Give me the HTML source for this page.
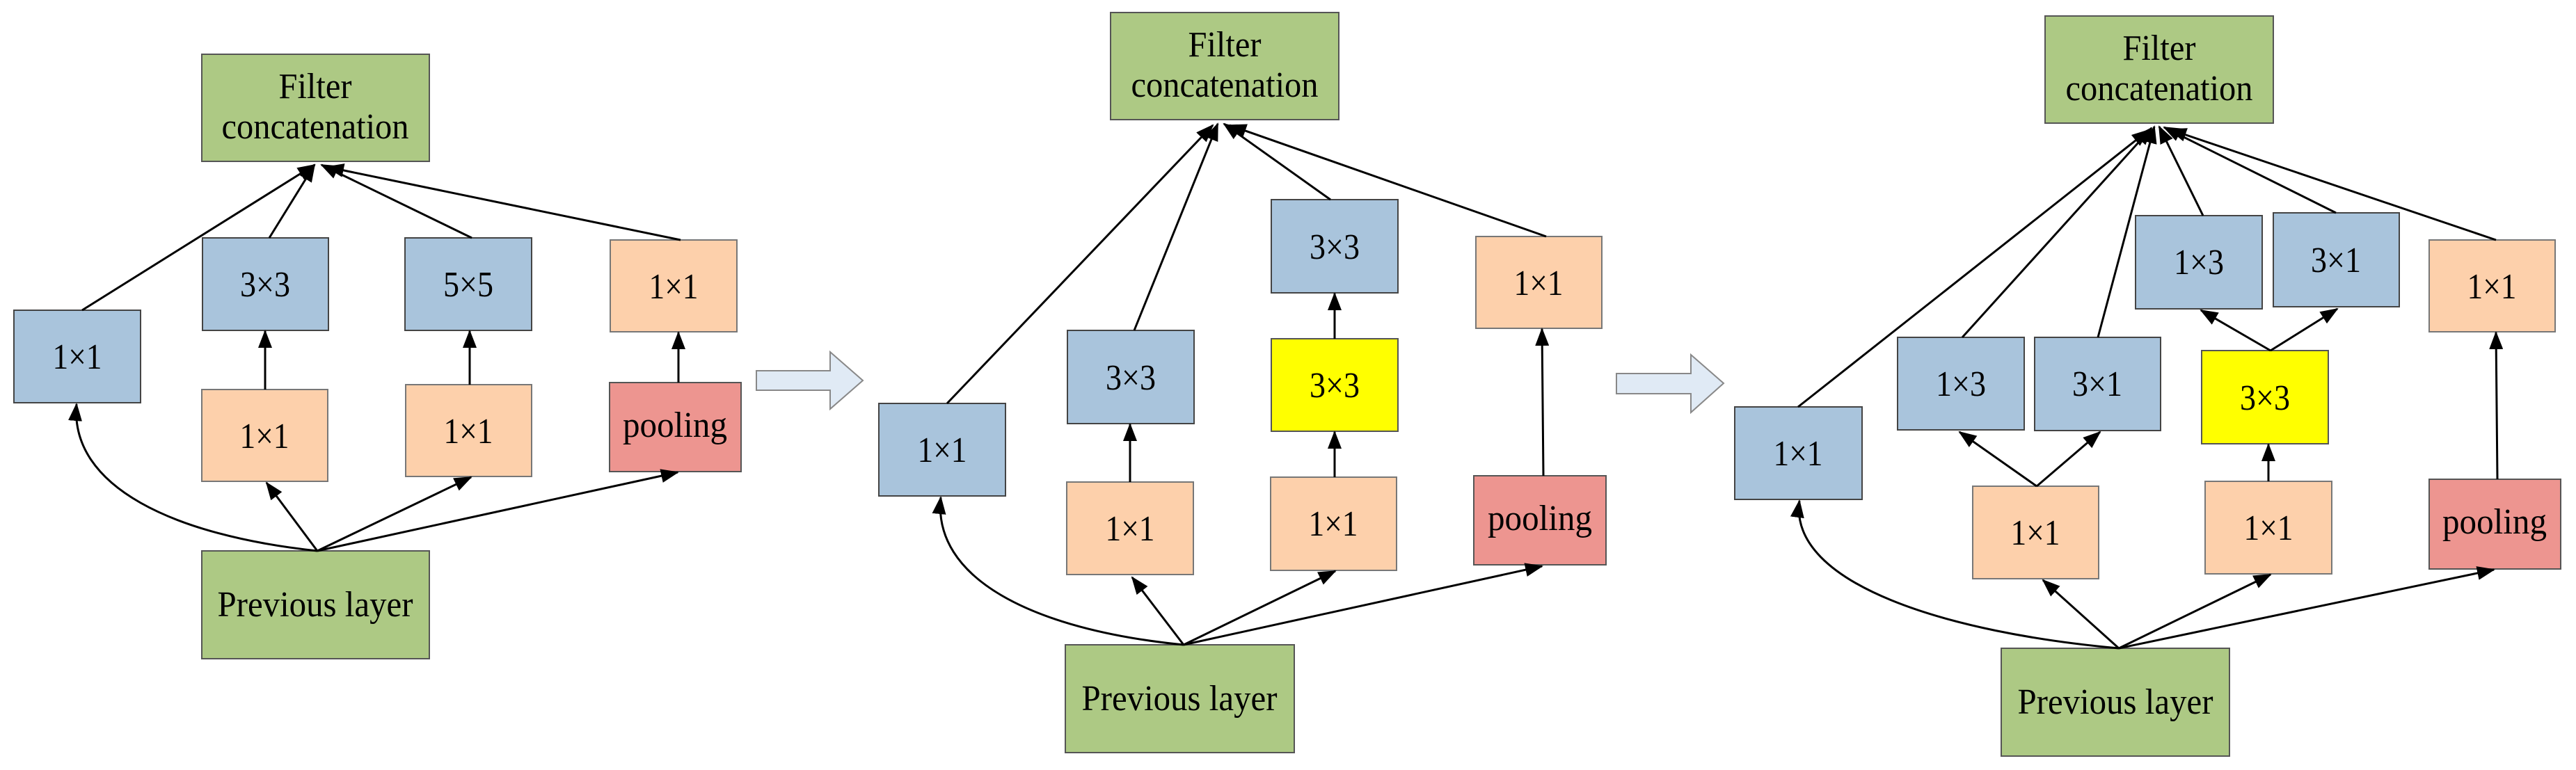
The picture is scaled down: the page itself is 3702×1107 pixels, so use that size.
<!DOCTYPE html>
<html><head><meta charset="utf-8"><style>
html,body{margin:0;padding:0;background:#fff;}
svg{display:block;}
svg text{font-family:"Liberation Serif","Times New Roman","DejaVu Serif",serif;font-size:52px;fill:#000;text-anchor:middle;}
.g{fill:#adc984;stroke:#555;stroke-width:2;}
.b{fill:#a9c4dc;stroke:#444;stroke-width:2;}
.o{fill:#fdd0ab;stroke:#777;stroke-width:2;}
.p{fill:#ed9590;stroke:#555;stroke-width:2;}
.y{fill:#ffff00;stroke:#555;stroke-width:2;}
.l{stroke:#000;stroke-width:3;fill:none;marker-end:url(#ah);}
</style></head><body>
<svg width="3702" height="1107" viewBox="0 0 3702 1107" xmlns="http://www.w3.org/2000/svg">
<defs>
<marker id="ah" markerUnits="userSpaceOnUse" markerWidth="26" markerHeight="20" refX="24" refY="10" orient="auto">
<path d="M0,0 L26,10 L0,20 z" fill="#000"/>
</marker>
</defs>

<!-- PANEL 1 -->
<rect class="g" x="290" y="78" width="327" height="154"/>
<text x="453" y="141" textLength="105" lengthAdjust="spacingAndGlyphs">Filter</text><text x="453" y="199" textLength="269" lengthAdjust="spacingAndGlyphs">concatenation</text>
<rect class="b" x="20" y="446" width="182" height="133"/><text x="111" y="530" textLength="71" lengthAdjust="spacingAndGlyphs">1×1</text>
<rect class="b" x="291" y="342" width="181" height="133"/><text x="381" y="426" textLength="72" lengthAdjust="spacingAndGlyphs">3×3</text>
<rect class="b" x="582" y="342" width="182" height="133"/><text x="673" y="426" textLength="72" lengthAdjust="spacingAndGlyphs">5×5</text>
<rect class="o" x="877" y="345" width="182" height="132"/><text x="968" y="429" textLength="71" lengthAdjust="spacingAndGlyphs">1×1</text>
<rect class="o" x="290" y="560" width="181" height="132"/><text x="380" y="644" textLength="71" lengthAdjust="spacingAndGlyphs">1×1</text>
<rect class="o" x="583" y="553" width="181" height="132"/><text x="673" y="637" textLength="71" lengthAdjust="spacingAndGlyphs">1×1</text>
<rect class="p" x="876" y="550" width="189" height="128"/><text x="970" y="628" textLength="150" lengthAdjust="spacingAndGlyphs">pooling</text>
<rect class="g" x="290" y="792" width="327" height="155"/><text x="453" y="886" textLength="281" lengthAdjust="spacingAndGlyphs">Previous layer</text>
<path d="M1087,533 L1193,533 L1193,506 L1240,547 L1193,588 L1193,561 L1087,561 z" fill="#e0eaf5" stroke="#888" stroke-width="2"/>

<path class="l" d="M118,446 L452,237"/>
<path class="l" d="M387,342 L452,237"/>
<path class="l" d="M678,342 L462,237"/>
<path class="l" d="M978,345 L470,240"/>
<path class="l" d="M381,560 L381,476"/>
<path class="l" d="M675,553 L675,476"/>
<path class="l" d="M975,550 L975,478"/>
<path class="l" d="M456,792 C250,770 100,700 110,581"/>
<path class="l" d="M456,792 L383,694"/>
<path class="l" d="M456,792 L677,686"/>
<path class="l" d="M456,792 L974,679"/>

<!-- PANEL 2 -->
<rect class="g" x="1596" y="18" width="328" height="154"/>
<text x="1760" y="81" textLength="105" lengthAdjust="spacingAndGlyphs">Filter</text><text x="1760" y="139" textLength="269" lengthAdjust="spacingAndGlyphs">concatenation</text>
<rect class="b" x="1263" y="580" width="182" height="133"/><text x="1354" y="664" textLength="71" lengthAdjust="spacingAndGlyphs">1×1</text>
<rect class="b" x="1534" y="475" width="182" height="134"/><text x="1625" y="560" textLength="72" lengthAdjust="spacingAndGlyphs">3×3</text>
<rect class="b" x="1827" y="287" width="182" height="134"/><text x="1918" y="372" textLength="72" lengthAdjust="spacingAndGlyphs">3×3</text>
<rect class="y" x="1827" y="487" width="182" height="133"/><text x="1918" y="571" textLength="72" lengthAdjust="spacingAndGlyphs">3×3</text>
<rect class="o" x="2121" y="340" width="181" height="132"/><text x="2211" y="424" textLength="71" lengthAdjust="spacingAndGlyphs">1×1</text>
<rect class="o" x="1533" y="693" width="182" height="133"/><text x="1624" y="777" textLength="71" lengthAdjust="spacingAndGlyphs">1×1</text>
<rect class="o" x="1826" y="686" width="181" height="134"/><text x="1916" y="770" textLength="71" lengthAdjust="spacingAndGlyphs">1×1</text>
<rect class="p" x="2118" y="684" width="190" height="128"/><text x="2213" y="762" textLength="150" lengthAdjust="spacingAndGlyphs">pooling</text>
<rect class="g" x="1531" y="927" width="329" height="155"/><text x="1695" y="1021" textLength="281" lengthAdjust="spacingAndGlyphs">Previous layer</text>
<path d="M2323,537 L2430,537 L2430,510 L2477,551 L2430,593 L2430,566 L2323,566 z" fill="#e0eaf5" stroke="#888" stroke-width="2"/>

<path class="l" d="M1361,580 L1743,180"/>
<path class="l" d="M1630,475 L1750,178"/>
<path class="l" d="M1912,287 L1759,178"/>
<path class="l" d="M2222,340 L1767,180"/>
<path class="l" d="M1624,693 L1624,610"/>
<path class="l" d="M1918,686 L1918,621"/>
<path class="l" d="M1918,487 L1918,422"/>
<path class="l" d="M2218,684 L2216,473"/>
<path class="l" d="M1701,927 C1480,905 1340,830 1352,715"/>
<path class="l" d="M1701,927 L1627,830"/>
<path class="l" d="M1701,927 L1919,821"/>
<path class="l" d="M1701,927 L2216,814"/>

<!-- PANEL 3 -->
<rect class="g" x="2939" y="23" width="328" height="154"/>
<text x="3103" y="86" textLength="105" lengthAdjust="spacingAndGlyphs">Filter</text><text x="3103" y="144" textLength="269" lengthAdjust="spacingAndGlyphs">concatenation</text>
<rect class="b" x="2493" y="585" width="183" height="133"/><text x="2584" y="669" textLength="71" lengthAdjust="spacingAndGlyphs">1×1</text>
<rect class="b" x="2727" y="485" width="182" height="133"/><text x="2818" y="569" textLength="72" lengthAdjust="spacingAndGlyphs">1×3</text>
<rect class="b" x="2924" y="485" width="181" height="134"/><text x="3014" y="569" textLength="72" lengthAdjust="spacingAndGlyphs">3×1</text>
<rect class="b" x="3069" y="310" width="182" height="134"/><text x="3160" y="394" textLength="72" lengthAdjust="spacingAndGlyphs">1×3</text>
<rect class="b" x="3267" y="306" width="181" height="135"/><text x="3357" y="391" textLength="72" lengthAdjust="spacingAndGlyphs">3×1</text>
<rect class="o" x="3491" y="345" width="181" height="132"/><text x="3581" y="429" textLength="71" lengthAdjust="spacingAndGlyphs">1×1</text>
<rect class="y" x="3164" y="504" width="182" height="134"/><text x="3255" y="589" textLength="72" lengthAdjust="spacingAndGlyphs">3×3</text>
<rect class="o" x="2835" y="699" width="181" height="133"/><text x="2925" y="783" textLength="71" lengthAdjust="spacingAndGlyphs">1×1</text>
<rect class="o" x="3169" y="692" width="182" height="133"/><text x="3260" y="776" textLength="71" lengthAdjust="spacingAndGlyphs">1×1</text>
<rect class="p" x="3491" y="689" width="189" height="129"/><text x="3585" y="767" textLength="150" lengthAdjust="spacingAndGlyphs">pooling</text>
<rect class="g" x="2876" y="932" width="328" height="155"/><text x="3040" y="1026" textLength="281" lengthAdjust="spacingAndGlyphs">Previous layer</text>

<path class="l" d="M2584,585 L3088,187"/>
<path class="l" d="M2820,485 L3092,184"/>
<path class="l" d="M3015,485 L3096,182"/>
<path class="l" d="M3166,310 L3103,182"/>
<path class="l" d="M3357,306 L3110,183"/>
<path class="l" d="M3587,345 L3118,186"/>
<path class="l" d="M2927,699 L2816,621"/>
<path class="l" d="M2927,699 L3018,621"/>
<path class="l" d="M3263,504 L3163,446"/>
<path class="l" d="M3263,504 L3359,444"/>
<path class="l" d="M3260,692 L3260,639"/>
<path class="l" d="M3589,689 L3587,478"/>
<path class="l" d="M3045,932 C2800,910 2570,840 2586,720"/>
<path class="l" d="M3045,932 L2936,834"/>
<path class="l" d="M3045,932 L3263,826"/>
<path class="l" d="M3045,932 L3584,819"/>
</svg>
</body></html>
